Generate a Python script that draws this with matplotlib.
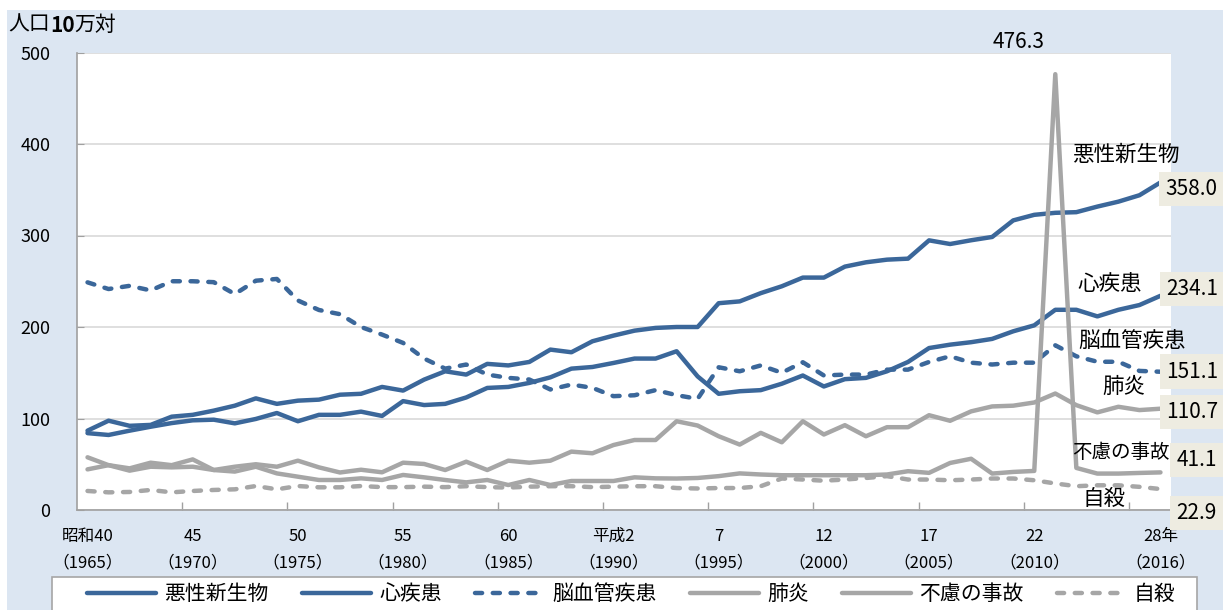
import matplotlib

matplotlib.use("Agg")
import matplotlib.pyplot as plt
from matplotlib.patches import Rectangle

plt.rcParams["font.family"] = ["Noto Sans CJK JP", "DejaVu Sans"]

W, H = 1223, 610

years = list(range(1965, 2017))
tick_idx = [0, 5, 10, 15, 20, 25, 30, 35, 40, 45, 51]
tick_labels = [
    "昭和40\n（1965）", "45\n（1970）", "50\n（1975）", "55\n（1980）", "60\n（1985）",
    "平成2\n（1990）", "7\n（1995）", "12\n（2000）", "17\n（2005）", "22\n（2010）",
    "28年\n（2016）",
]

cancer = [
    86.7, 97.6, 92.0, 93.0, 102.0, 104.0, 108.6, 114.0, 122.0, 116.0, 119.5, 120.6, 126.0, 127.0,
    134.5, 130.5, 142.5, 151.6, 148.0, 159.7, 158.0, 161.8, 175.3, 172.4, 184.4, 190.6, 196.0, 199.0,
    200.0, 200.0, 226.0, 228.0, 237.0, 244.5, 254.0, 254.0, 266.0, 270.7, 273.6, 274.7, 294.7, 290.7,
    294.8, 298.4, 316.5, 322.6, 324.8, 325.5, 331.6, 337.0, 344.0, 358.0,
]
heart = [
    84.0, 82.0, 86.7, 91.0, 95.0, 98.0, 98.7, 94.7, 99.5, 106.0, 97.0, 104.0, 104.0, 107.5,
    102.8, 119.0, 114.7, 116.0, 123.0, 133.4, 134.5, 138.9, 145.0, 154.5, 156.3, 160.7, 165.5, 165.5,
    173.5, 146.0, 127.0, 129.8, 131.0, 138.0, 147.0, 135.0, 143.0, 144.4, 151.6, 161.8, 177.0, 180.7,
    183.4, 187.0, 195.3, 201.8, 218.8, 218.8, 211.6, 218.8, 224.0, 234.1,
]
cerebro = [
    248.8, 241.5, 245.0, 240.0, 250.0, 250.0, 249.0, 236.0, 250.6, 252.5, 229.0, 218.6, 214.0, 200.0,
    191.7, 182.6, 165.5, 154.5, 159.0, 148.0, 144.4, 142.6, 131.7, 137.1, 133.5, 124.4, 125.4, 131.0,
    125.5, 121.5, 156.0, 151.6, 158.0, 150.0, 161.5, 147.0, 148.0, 148.0, 153.4, 153.4, 161.8, 168.0,
    161.0, 159.0, 161.0, 161.0, 180.0, 168.0, 162.0, 162.0, 152.0, 151.1,
]
pneumonia = [
    44.4, 49.0, 45.5, 51.7, 49.0, 55.3, 43.7, 47.3, 50.0, 47.3, 53.9, 46.6, 41.0, 44.0,
    41.2, 51.7, 50.3, 43.7, 52.8, 43.7, 53.9, 51.7, 53.9, 63.8, 62.0, 71.0, 76.5, 76.5,
    97.0, 92.3, 80.6, 71.5, 84.3, 74.0, 97.0, 82.5, 92.7, 80.6, 90.5, 90.5, 103.6, 97.5,
    107.8, 113.2, 114.0, 117.5, 127.3, 114.6, 106.7, 112.8, 109.2, 110.7,
]
accident = [
    57.6, 49.0, 43.0, 47.3, 46.6, 47.3, 43.7, 42.0, 47.3, 40.0, 36.4, 32.8, 32.8, 34.6,
    32.8, 38.3, 35.7, 32.8, 30.2, 32.8, 27.3, 32.8, 27.3, 31.7, 31.7, 31.7, 35.7, 34.6,
    34.4, 35.0, 37.0, 40.0, 38.8, 38.0, 38.0, 38.0, 38.0, 38.0, 38.8, 42.4, 40.6, 51.4,
    56.0, 39.8, 41.6, 42.7, 476.3, 46.0, 39.8, 39.8, 40.5, 41.1,
]
suicide = [
    20.8, 19.3, 19.7, 21.9, 19.3, 20.8, 21.9, 22.6, 26.2, 22.6, 26.2, 24.8, 24.8, 26.2,
    25.0, 25.0, 25.5, 25.0, 26.0, 25.0, 24.5, 25.5, 26.0, 26.0, 25.0, 25.5, 26.0, 26.0,
    24.0, 23.5, 24.0, 24.0, 26.0, 34.4, 33.3, 32.0, 33.3, 35.0, 37.0, 33.3, 33.3, 32.5,
    33.3, 34.4, 34.4, 32.5, 29.0, 26.0, 27.0, 27.0, 25.3, 22.9,
]

BLUE = "#3B679A"
GRAY = "#A6A6A6"
PANEL = "#DCE6F2"
BOX = "#EEECE1"
DASH = (0, (1.6, 2.4))

series = [
    ("悪性新生物", cancer, BLUE, "-"),
    ("心疾患", heart, BLUE, "-"),
    ("脳血管疾患", cerebro, BLUE, DASH),
    ("肺炎", pneumonia, GRAY, "-"),
    ("不慮の事故", accident, GRAY, "-"),
    ("自殺", suicide, GRAY, DASH),
]


def fig_xy(px, py):
    return px / W, 1 - py / H


fig = plt.figure(figsize=(W / 100, H / 100), dpi=100)
fig.patch.set_facecolor("white")
fig.patches.append(Rectangle((7 / W, 0), 1 - 7 / W, 1 - 10 / H, transform=fig.transFigure,
                             facecolor=PANEL, edgecolor="none", zorder=-10))
# legend frame
fig.patches.append(Rectangle(fig_xy(52, 615), 1145 / W, 38 / H, transform=fig.transFigure,
                             facecolor="white", edgecolor="#A6A6A6", linewidth=1.2, zorder=-5))

ax = fig.add_axes([77 / W, 100 / H, 1094 / W, 457.5 / H])
ax.set_facecolor("white")
x = list(range(len(years)))
handles = []
for name, values, color, style in series:
    (line,) = ax.plot(x, values, color=color, linestyle=style, linewidth=3.2,
                      solid_capstyle="round", dash_capstyle="round", label=name, clip_on=False)
    handles.append(line)

ax.set_xlim(-0.5, len(years) - 0.5)
ax.set_ylim(0, 500)
ax.set_yticks(range(0, 501, 100))
ax.yaxis.grid(True, color="#D9D9D9", linewidth=1.2)
ax.set_axisbelow(True)
ax.set_xticks(tick_idx)
ax.set_xticklabels(tick_labels, linespacing=1.75)
ax.set_xticks([i + 4.5 for i in range(0, 50, 5)], minor=True)
ax.tick_params(axis="x", which="major", length=0, pad=13, labelsize=12)
ax.tick_params(axis="x", which="minor", direction="in", length=6, color="#A0A0A0", width=1)
ax.tick_params(axis="y", direction="in", length=5, color="#A0A0A0", pad=19, labelsize=13)
for side in ("top", "right"):
    ax.spines[side].set_visible(False)
for side in ("left", "bottom"):
    ax.spines[side].set_color("#A0A0A0")
    ax.spines[side].set_linewidth(1.2)

# unit label with bold "10"
t1 = fig.text(*fig_xy(8, 25), "人口", ha="left", va="center", fontsize=15)
t2 = fig.text(0, 0, "10", fontsize=15, fontweight="bold")
t3 = fig.text(0, 0, "万対", fontsize=15)
fig.canvas.draw()
r = fig.canvas.get_renderer()
bb1 = t1.get_window_extent(r)
t2.set_position((bb1.x1 / W, bb1.y0 / H))
t2.set_va("bottom")
bb2 = t2.get_window_extent(r)
t3.set_position((bb2.x1 / W, bb1.y0 / H))
t3.set_va("bottom")

# series names on the right
names = [
    ("悪性新生物", 1072, 155, 15.5),
    ("心疾患", 1077, 284, 15.5),
    ("脳血管疾患", 1078, 341, 15.5),
    ("肺炎", 1102, 387, 15.5),
    ("不慮の事故", 1072, 453, 14),
    ("自殺", 1082, 499, 15.5),
]
for text, px, py, fs in names:
    fig.text(*fig_xy(px, py), text, ha="left", va="center", fontsize=fs)

# end values in boxes
ends = [(cancer, 3.6, -4.8), (heart, 4.3, 5.0), (cerebro, 4.3, 0.0), (pneumonia, 4.3, -2.4),
        (accident, 11.5, 8.9), (suicide, 11.5, -17.3)]
for values, dx, dy in ends:
    ax.annotate(f"{values[-1]:.1f}", xy=(len(values) - 1, values[-1]), xytext=(dx, dy),
                textcoords="offset points", ha="left", va="center", fontsize=15,
                bbox=dict(boxstyle="square,pad=0.3", fc=BOX, ec="none"), annotation_clip=False)

peak = max(accident)
ax.annotate(f"{peak:.1f}", xy=(accident.index(peak), peak), xytext=(-26.6, 23),
            textcoords="offset points", ha="center", va="center", fontsize=15,
            annotation_clip=False)

fig.legend(handles=handles, loc="upper left", bbox_to_anchor=fig_xy(81, 577), ncol=6,
           frameon=False, fontsize=15, handlelength=3.3, handletextpad=0.4,
           columnspacing=1.6, borderaxespad=0, borderpad=0.3)

fig.savefig("out.png", dpi=100)
